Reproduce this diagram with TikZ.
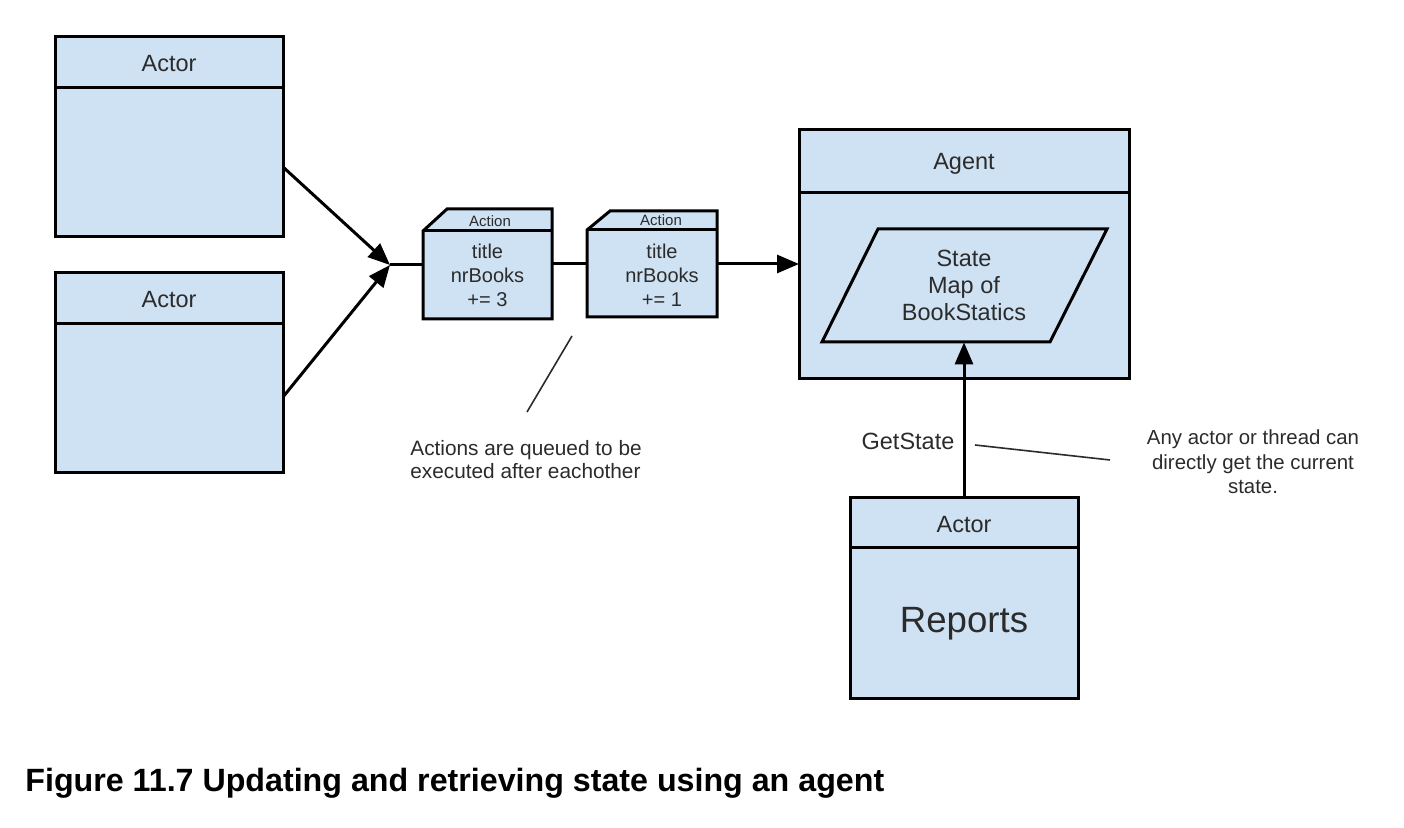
\documentclass[tikz,border=0pt]{standalone}
\usepackage{fontspec}
\setmainfont{Liberation Sans}
\usetikzlibrary{arrows.meta}
\definecolor{boxblue}{HTML}{CFE2F3}
\definecolor{txtgray}{HTML}{2B2B2B}
\begin{document}
\begin{tikzpicture}[x=0.5pt,y=-0.5pt,
  box/.style={draw=black, line width=1.5pt, fill=boxblue, inner sep=0pt, outer sep=0pt},
  actframe/.style={inner sep=0pt, outer sep=0pt},
  hdr/.style={text=txtgray, font=\fontsize{11.75}{14}\selectfont, inner sep=0pt},
  body/.style={text=txtgray, font=\fontsize{10}{12}\selectfont, align=center, inner sep=0pt},
  small/.style={text=txtgray, font=\fontsize{7.5}{9}\selectfont, inner sep=0pt},
  note/.style={text=txtgray, font=\fontsize{10.4}{12}\selectfont, inner sep=0pt},
  arr/.style={line width=1.5pt, -{Triangle[length=11pt,width=9pt]}},
  conn/.style={line width=1.5pt},
  thinline/.style={line width=0.8pt, draw=txtgray}]
\useasboundingbox (0,0) rectangle (1404,828);

% Actors on the left
\node[box, minimum width=114pt, minimum height=100pt] (act1) at (169,137) {};
\draw[conn] ([yshift=-25.5pt]act1.north west) -- ([yshift=-25.5pt]act1.north east);
\node[hdr] (act1lbl) at (169,63.5) {Actor};

\node[box, minimum width=114pt, minimum height=100pt] (act2) at (169,373) {};
\draw[conn] ([yshift=-25.5pt]act2.north west) -- ([yshift=-25.5pt]act2.north east);
\node[hdr] (act2lbl) at (169,300) {Actor};

% Agent
\node[box, minimum width=165pt, minimum height=124.5pt] (agent) at (964,254.5) {};
\draw[conn] ([yshift=-31.5pt]agent.north west) -- ([yshift=-31.5pt]agent.north east);
\node[hdr] (agentlbl) at (964,164) {Agent};
\draw[conn, fill=boxblue] (878,229) -- (1107,229) -- (1050,342) -- (822,342) -- cycle;
\node[body, font=\fontsize{11.75}{13.5}\selectfont, minimum height=56.5pt] (state) at (964,285.5) {State\\Map of\\BookStatics};

% Reports actor
\node[box, minimum width=114pt, minimum height=100pt] (rep) at (964,598) {};
\draw[conn] ([yshift=-25pt]rep.north west) -- ([yshift=-25pt]rep.north east);
\node[hdr] (replbl) at (964,525) {Actor};
\node[text=txtgray, font=\fontsize{18.3}{22}\selectfont, inner sep=0pt] (reptxt) at (964,624) {Reports};

% Actions
\node[actframe, minimum width=64.5pt, minimum height=55pt] (a1) at (487.5,264) {};
\draw[conn, fill=boxblue] ([xshift=12pt]a1.north west) -- (a1.north east) -- (a1.south east) -- (a1.south west) -- ([yshift=-11pt]a1.north west) -- cycle;
\draw[conn] ([yshift=-11pt]a1.north west) -- ([yshift=-11pt]a1.north east);
\node[small] (a1lbl) at (490,221) {Action};
\node[body] (a1txt) at (487.5,275) {title\\nrBooks\\+= 3};

\node[actframe, minimum width=65pt, minimum height=53pt] (a2) at (652,264) {};
\draw[conn, fill=boxblue] ([xshift=11.5pt]a2.north west) -- (a2.north east) -- (a2.south east) -- (a2.south west) -- ([yshift=-9.5pt]a2.north west) -- cycle;
\draw[conn] ([yshift=-9.5pt]a2.north west) -- ([yshift=-9.5pt]a2.north east);
\node[small] (a2lbl) at (661,220) {Action};
\node[body] (a2txt) at (662,275) {title\\nrBooks\\+= 1};

% Connectors
\coordinate (j) at (390,265);
\draw[arr] ([yshift=-15pt]act1.east) -- (j);
\draw[arr] ([yshift=-12pt]act2.east) -- (j);
\draw[conn] (j) -- (j -| a1.west);
\draw[conn] (a1.east) -- (a2.west);
\draw[arr] (a2.east) -- (a2.east -| agent.west);
\draw[arr] (rep.north) -- (state.south);

% Notes
\coordinate (q1) at (572,336);
\coordinate (q2) at (527,412);
\draw[thinline] (q1) -- (q2);
\node[note, anchor=west, align=left, font=\fontsize{10.4}{11.5}\selectfont] (qnote) at (410,460) {Actions are queued to be\\executed after eachother};

\node[hdr] (gs) at (908,441) {GetState};
\coordinate (g1) at (975,445);
\coordinate (g2) at (1110,460);
\draw[thinline] (g1) -- (g2);
\node[note, align=center, font=\fontsize{10.2}{12.25}\selectfont] (anote) at (1253,462) {Any actor or thread can\\directly get the current\\state.};

% Caption
\node[anchor=west, inner sep=0pt, font=\bfseries\fontsize{16.1}{19}\selectfont] (cap) at (25,783) {Figure 11.7 Updating and retrieving state using an agent};
\end{tikzpicture}
\end{document}
